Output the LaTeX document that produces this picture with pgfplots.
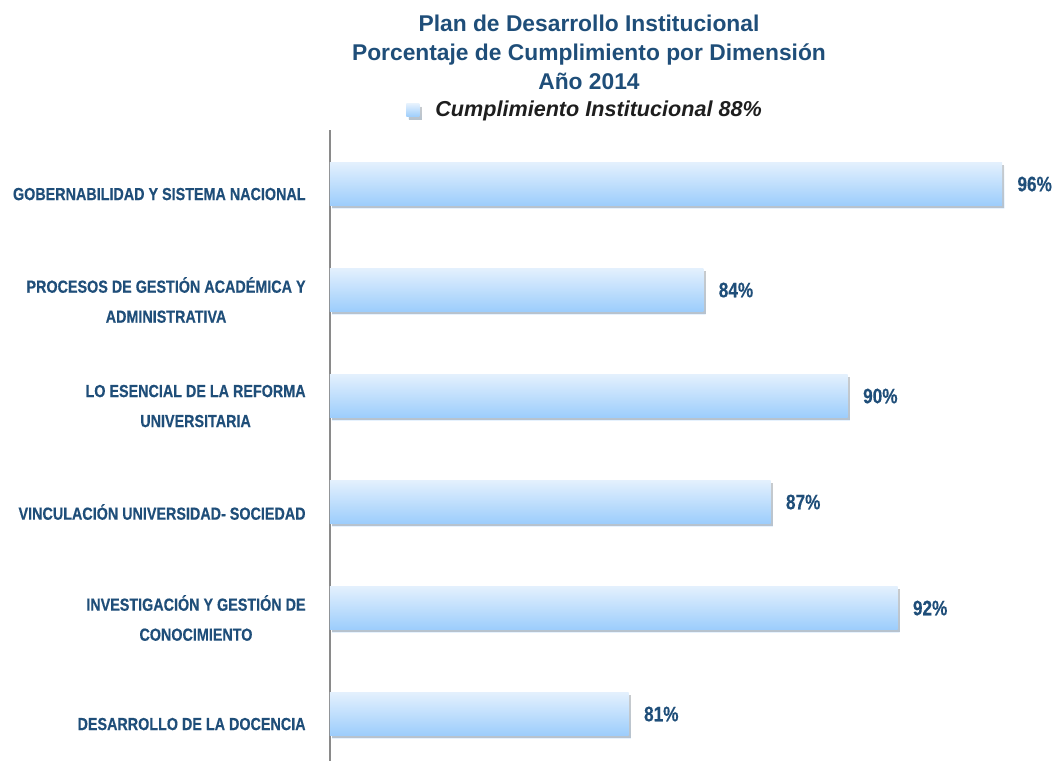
\documentclass[border=0pt]{standalone}
\usepackage{fontspec}
\setmainfont{Liberation Sans}
\newfontfamily\narrowfont{Liberation Sans}[FakeStretch=0.82, BoldFeatures={FakeBold=0.35}]
\usepackage{pgfplots}
\pgfplotsset{compat=1.18}
\usetikzlibrary{shadows}
\definecolor{titleblue}{HTML}{1F4E79}
\definecolor{legtext}{HTML}{1E1E1E}
\definecolor{barTop}{HTML}{E3F0FD}
\definecolor{barBot}{HTML}{9CCDFC}
\definecolor{axisgray}{HTML}{8A8A8A}
\pgfplotsset{mybar/.style={xbar, bar width=21.5pt, draw=none, top color=barTop, bottom color=barBot,
  drop shadow={shadow xshift=1.1pt, shadow yshift=-1.4pt, fill=black, opacity=0.25}}}
\begin{document}
\begin{tikzpicture}
\path[use as bounding box] (-165pt,0pt) rectangle (363.5pt,380.5pt);
\begin{axis}[
  name=ax, at={(0pt,0pt)}, anchor=south west,
  scale only axis, width=342.25pt, height=315.5pt,
  xmin=69, xmax=96.5, ymin=-0.443, ymax=5.51,
  axis x line=none, axis y line*=left,
  axis line style={draw=axisgray, line width=0.6pt},
  ytick={0,1,2,3,4,5}, major tick length=0pt,
  yticklabels={
    {DESARROLLO DE LA DOCENCIA},
    {INVESTIGACIÓN Y GESTIÓN DE\\CONOCIMIENTO},
    {VINCULACIÓN UNIVERSIDAD- SOCIEDAD},
    {LO ESENCIAL DE LA REFORMA\\UNIVERSITARIA},
    {PROCESOS DE GESTIÓN ACADÉMICA Y\\ADMINISTRATIVA},
    {GOBERNABILIDAD Y SISTEMA NACIONAL}},
  yticklabel style={align=center, text=titleblue, inner sep=0pt, xshift=-12pt, yshift=-5pt,
    font=\narrowfont\bfseries\fontsize{8.75}{15}\selectfont},
  point meta=x,
  nodes near coords={\pgfmathprintnumber[fixed,precision=0,assume math mode=true]{\pgfplotspointmeta}\%},
  nodes near coords style={anchor=west, inner sep=0pt, xshift=7.5pt, text=titleblue,
    font=\narrowfont\bfseries\fontsize{10.5}{12}\selectfont},
  legend style={draw=none, fill=none, inner sep=0pt, at={(axis description cs:0.111,1.031)}, anchor=west,
    font=\bfseries\itshape\fontsize{10.8}{12}\selectfont, text=legtext},
  legend image code/.code={\shade[top color=barTop, bottom color=barBot] (0pt,-3.25pt) rectangle (6.5pt,3.25pt); \path (12.5pt,0pt);},
]
\addplot[mybar] coordinates {(96,5)};
\addlegendentry{Cumplimiento Institucional 88\%}
\addplot[mybar, forget plot] coordinates {(84,4)};
\addplot[mybar, forget plot] coordinates {(89.8,3)};
\addplot[mybar, forget plot] coordinates {(86.7,2)};
\addplot[mybar, forget plot] coordinates {(91.8,1)};
\addplot[mybar, forget plot] coordinates {(81,0)};
\end{axis}
\begin{scope}[font=\bfseries\fontsize{11.4}{13}\selectfont, text=titleblue]
\node[anchor=base] at (129.5pt,364.65pt) {Plan de Desarrollo Institucional};
\node[anchor=base] at (129.5pt,350pt) {Porcentaje de Cumplimiento por Dimensión};
\node[anchor=base] at (129.5pt,335.85pt) {Año 2014};
\end{scope}
\end{tikzpicture}
\end{document}
